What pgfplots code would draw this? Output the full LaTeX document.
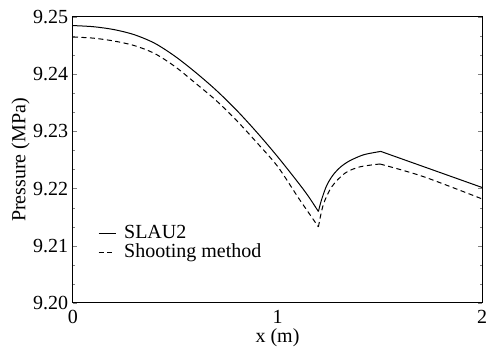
\documentclass[border=0pt]{standalone}
\usepackage{fontspec}
\setmainfont{Liberation Serif}
\usepackage{pgfplots}
\pgfplotsset{compat=1.18}
\begin{document}
\fontsize{20}{24}\selectfont
\begin{tikzpicture}
\begin{axis}[
  scale only axis,
  width=409pt, height=286pt,
  xmin=0, xmax=2, ymin=9.20, ymax=9.25,
  xtick={0,1,2},
  ytick={9.20,9.21,9.22,9.23,9.24,9.25},
  minor y tick num=2,
  tick align=inside,
  ytick pos=both,
  x tick style={draw=none},
  major tick length=4pt, minor tick length=2.5pt,
  /pgf/number format/assume math mode=true,
  yticklabel style={/pgf/number format/fixed,/pgf/number format/precision=2,/pgf/number format/fixed zerofill, font=\fontsize{20}{24}\selectfont, xshift=2pt},
  xticklabel style={font=\fontsize{20}{24}\selectfont},
  scaled y ticks=false,
  xlabel={x (m)}, ylabel={Pressure (MPa)},
  xlabel style={yshift=8pt},
  ylabel style={yshift=-10pt},
  label style={font=\fontsize{20}{24}\selectfont},
  legend style={draw=none, fill=none, inner sep=0pt, at={(axis cs:0.122,9.2138)}, anchor=north west,
    font=\fontsize{20}{24}\selectfont, row sep=1pt,
    nodes={inner sep=0pt, text height=14pt, text depth=4pt}},
  legend cell align=left,
  /tikz/every odd column/.append style={column sep=8pt},
  legend image code/.code={\draw[#1] (0pt,0pt) -- (17pt,0pt);},
  axis line style={line width=1pt},
]
\addplot[black, line width=1pt, smooth] coordinates {
(0,9.2485) (0.1,9.2483) (0.2,9.2478) (0.3,9.2469) (0.4,9.2454) (0.5,9.2431)
(0.6,9.2403) (0.7,9.2372) (0.8,9.2337) (0.9,9.2298) (1.0,9.2256) (1.1,9.2211)
(1.15,9.2187) (1.2,9.2160)
};
\addlegendentry{SLAU2}
\addplot[black, line width=1pt, dash pattern=on 5pt off 3.5pt, smooth] coordinates {
(0,9.2465) (0.1,9.2463) (0.2,9.2458) (0.3,9.2450) (0.4,9.2436) (0.5,9.2413)
(0.6,9.2384) (0.7,9.2354) (0.8,9.2319) (0.9,9.2280) (1.0,9.2239) (1.1,9.2185)
(1.15,9.2159) (1.2,9.2133)
};
\addlegendentry{Shooting method}
\addplot[black, line width=1pt, smooth, forget plot] coordinates {
(1.2,9.2160) (1.215,9.2180) (1.24,9.2205) (1.27,9.2223) (1.306,9.2237) (1.35,9.2248) (1.42,9.2259) (1.505,9.2265)
};
\addplot[black, line width=1pt, forget plot] coordinates {
(1.505,9.2265) (2.0,9.2202)
};
\addplot[black, line width=1pt, dash pattern=on 5pt off 3.5pt, smooth, forget plot] coordinates {
(1.2,9.2133) (1.224,9.2172) (1.265,9.2203) (1.33,9.2227) (1.403,9.2238) (1.501,9.2243)
};
\addplot[black, line width=1pt, dash pattern=on 5pt off 3.5pt, smooth, forget plot] coordinates {
(1.501,9.2243) (1.713,9.2221) (2.0,9.2182)
};
\end{axis}
\pgfresetboundingbox
\path[use as bounding box] ([shift={(-73pt,-45pt)}]current axis.south west) rectangle ([shift={(5pt,17pt)}]current axis.north east);
\end{tikzpicture}
\end{document}
